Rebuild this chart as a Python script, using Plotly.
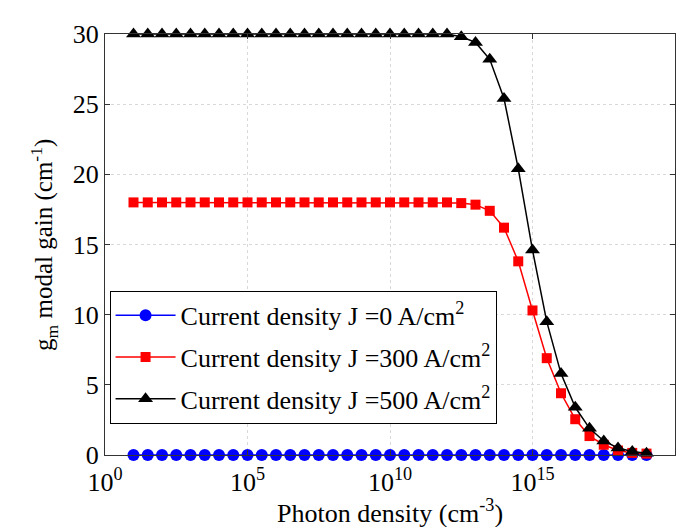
import numpy as np
import plotly.graph_objects as go

# Photon density exponents (10^1 ... 10^19, step 0.5 decades)
log_x = [1.0 + 0.5 * i for i in range(37)]
photon_density = [10 ** v for v in log_x]

gain_J0 = [0.0] * 37

gain_J300 = [18.0] * 23 + [17.95, 17.84, 17.4, 16.2, 13.8, 10.3, 6.9, 4.4,
                           2.55, 1.35, 0.73, 0.32, 0.15, 0.1]

gain_J500 = [30.0] * 23 + [29.8, 29.4, 28.2, 25.4, 20.4, 14.6, 9.5, 5.8,
                           3.4, 1.9, 1.0, 0.5, 0.25, 0.12]

series_names = ["Current density J =0 A/cm<sup>2</sup>",
                "Current density J =300 A/cm<sup>2</sup>",
                "Current density J =500 A/cm<sup>2</sup>"]

x_tickvals = [1, 1e5, 1e10, 1e15, 1e20]
x_ticktext = ["10<sup>0</sup>", "10<sup>5</sup>", "10<sup>10</sup>",
              "10<sup>15</sup>", "10<sup>20</sup>"]
y_tickvals = [0, 5, 10, 15, 20, 25, 30]

FONT = "Liberation Serif, Times New Roman, serif"

fig = go.Figure()
fig.add_trace(go.Scatter(
    x=photon_density, y=gain_J0, name=series_names[0], mode="lines+markers",
    legendgroup="a", line=dict(color="blue", width=1.5), cliponaxis=False,
    marker=dict(symbol="circle", size=12, color="blue")))
fig.add_trace(go.Scatter(
    x=photon_density, y=gain_J300, name=series_names[1], mode="lines+markers",
    legendgroup="b", line=dict(color="red", width=1.5), cliponaxis=False,
    marker=dict(symbol="square", size=10, color="red")))
fig.add_trace(go.Scatter(
    x=photon_density, y=gain_J500, name=series_names[2], mode="lines+markers",
    legendgroup="c", line=dict(color="black", width=1.5), cliponaxis=False,
    marker=dict(symbol="triangle-up", size=13, color="black")))

axis_common = dict(
    showline=True, linecolor="#333", linewidth=1, mirror="ticks",
    ticks="inside", ticklen=5, tickcolor="#333",
    showgrid=True, gridcolor="#d9d9d9", griddash="dot", gridwidth=1,
    zeroline=False, tickfont=dict(family=FONT, size=26, color="black"),
)

fig.update_xaxes(type="log", range=[0, 20], tickvals=x_tickvals,
                 ticktext=x_ticktext, ticklabelstandoff=4,
                 **axis_common)
fig.update_yaxes(range=[0, 30], tickvals=y_tickvals, **axis_common)

fig.add_annotation(
    text="Photon density (cm<sup>-3</sup>)",
    xref="paper", yref="paper", x=0.5, y=-0.135,
    xanchor="center", yanchor="middle", showarrow=False,
    font=dict(family=FONT, size=26, color="black"))

fig.add_annotation(
    text="g<sub>m</sub> modal gain (cm<sup>-1</sup>)",
    xref="paper", yref="paper", x=-0.108, y=0.5,
    xanchor="center", yanchor="middle", textangle=-90, showarrow=False,
    font=dict(family=FONT, size=25, color="black"))

fig.update_layout(
    width=687, height=527,
    margin=dict(l=97, r=20, t=17, b=80),
    paper_bgcolor="white", plot_bgcolor="white",
    font=dict(family=FONT, color="black"),
    legend=dict(x=0.008, y=0.39, xanchor="left", yanchor="top",
                bgcolor="white", bordercolor="black", borderwidth=1,
                font=dict(family=FONT, size=26, color="black"),
                itemwidth=60, tracegroupgap=5),
    showlegend=True,
)

fig.write_html("out.html")
